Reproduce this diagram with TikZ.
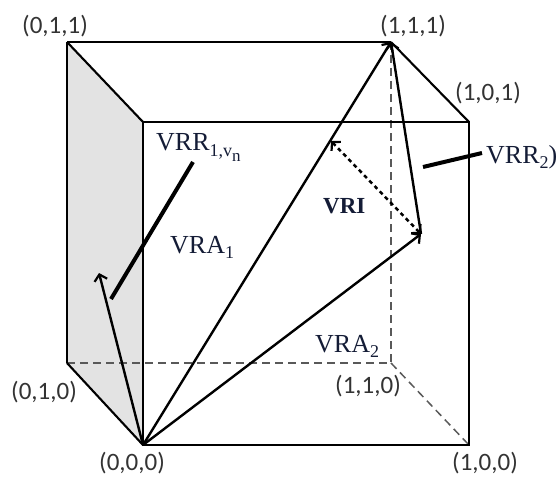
\documentclass[tikz,border=0pt]{standalone}
\usepackage{fontspec}
\setmainfont{Liberation Serif}
\newfontfamily\coordfont{Carlito}
\usetikzlibrary{arrows.meta}
\definecolor{lbl}{HTML}{141C36}
\definecolor{crd}{HTML}{333333}
\newcommand\lowsub[2]{\raisebox{-#1}{\fontsize{18}{20}\selectfont #2}}
\newcommand\lowsubsub[2]{\raisebox{-#1}{\fontsize{17}{19}\selectfont #2}}
\begin{document}
\begin{tikzpicture}[x=1pt,y=-1pt,
  edge/.style={line width=2.1pt,black},
  hidden/.style={line width=1.5pt,color=black!65,dash pattern=on 8pt off 5pt},
  vec/.style={line width=2.4pt,-{Straight Barb[length=6pt,width=13pt,line width=2.2pt]}},
  vri/.style={line width=2.5pt,dash pattern=on 4pt off 3.5pt,{Straight Barb[length=6pt,width=13pt,line width=2.2pt]}-{Straight Barb[length=6pt,width=13pt,line width=2.2pt]}},
  leader/.style={line width=4pt},
  coordlbl/.style={font=\coordfont\fontsize{25}{28}\selectfont,text=crd,inner sep=0pt},
  vlbl/.style={font=\fontsize{26}{30}\selectfont,text=lbl,inner sep=0pt,anchor=base west}]
\useasboundingbox (0,0) rectangle (556,476);
% cube corners
\coordinate (B011) at (67,42);
\coordinate (B111) at (391,42);
\coordinate (B010) at (67,363);
\coordinate (B110) at (391,363);
\coordinate (F001) at (143,122);
\coordinate (F101) at (469,122);
\coordinate (F000) at (143,445);
\coordinate (F100) at (469,445);
\coordinate (P) at (421,234);
\coordinate (Q) at (331,141);
\coordinate (L) at (99,273);
% shaded left face
\fill[black!11] (B011) -- (F001) -- (F000) -- (B010) -- cycle;
% hidden edges
\draw[hidden] (B010) -- (B110);
\draw[hidden] (B111) -- (B110);
\draw[hidden] (B110) -- (F100);
% visible edges
\draw[edge] (B011) -- (B111);
\draw[edge] (B011) -- (B010);
\draw[edge] (B011) -- (F001);
\draw[edge] (B111) -- (F101);
\draw[edge] (B010) -- (F000);
\draw[edge] (F001) -- (F101) -- (F100) -- (F000) -- cycle;
% vectors
\draw[vec] (F000) -- (B111);
\draw[vec] (F000) -- (P);
\draw[vec] (P) -- (B111);
\draw[vec] (F000) -- (L);
\draw[vri] (Q) -- (P);
% leaders
\coordinate (A1) at (193,162);
\coordinate (A2) at (111,299);
\coordinate (C1) at (423,167);
\coordinate (C2) at (482,153);
\draw[leader] (A1) -- (A2);
\draw[leader] (C1) -- (C2);
% coordinate labels
\node[coordlbl] (t011) at (55,26) {(0,1,1)};
\node[coordlbl] (t111) at (413,26) {(1,1,1)};
\node[coordlbl] (t101) at (488,93) {(1,0,1)};
\node[coordlbl] (t010) at (44,392) {(0,1,0)};
\node[coordlbl] (t110) at (368,386) {(1,1,0)};
\node[coordlbl] (t000) at (132,463) {(0,0,0)};
\node[coordlbl] (t100) at (485,463) {(1,0,0)};
% vector labels
\node[vlbl] (vrr1) at (156,150) {VRR\lowsub{6pt}{1,v\lowsubsub{5pt}{n}}};
\node[vlbl] (vra1) at (170,253) {VRA\lowsub{5pt}{1}};
\node[vlbl,font=\bfseries\fontsize{23}{27}\selectfont] (vri) at (323,213) {VRI};
\node[vlbl] (vrr2) at (486,163) {VRR\lowsub{5pt}{2})};
\node[vlbl] (vra2) at (315,352) {VRA\lowsub{5pt}{2}};
\end{tikzpicture}
\end{document}
